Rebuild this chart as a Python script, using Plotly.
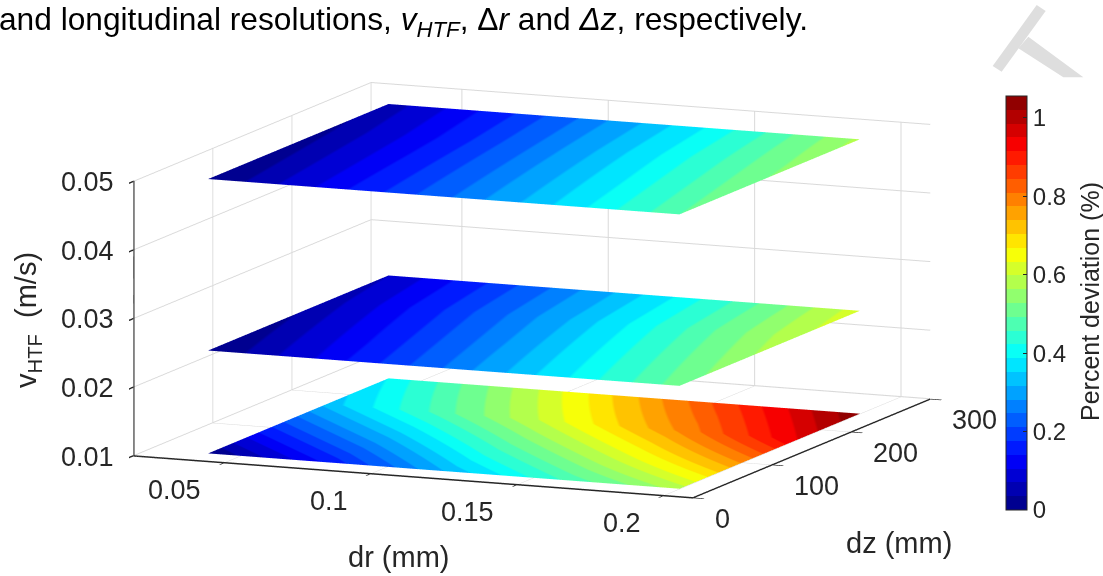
import plotly.graph_objects as go

W, H = 1103, 576

dr_mm = [0.039, 0.08, 0.12, 0.16, 0.20]
dz_mm = [20, 170, 248]
v_levels = [0.01, 0.025, 0.05]

dev_v001 = [
    [0.00, 0.15, 0.32, 0.46, 0.58],
    [0.33, 0.48, 0.63, 0.78, 0.95],
    [0.39, 0.555, 0.72, 0.885, 1.05],
]
dev_v0025 = [
    [0.00, 0.12, 0.25, 0.38, 0.51],
    [0.05, 0.18, 0.31, 0.45, 0.59],
    [0.07, 0.20, 0.33, 0.47, 0.62],
]
dev_v005 = [
    [0.00, 0.12, 0.24, 0.36, 0.49],
    [0.03, 0.15, 0.28, 0.41, 0.54],
    [0.05, 0.17, 0.30, 0.43, 0.57],
]
all_dev = [dev_v001, dev_v0025, dev_v005]

dr_ticks = [0.05, 0.1, 0.15, 0.2]
dr_labels = ["0.05", "0.1", "0.15", "0.2"]
dz_ticks = [0, 100, 200, 300]
dz_labels = ["0", "100", "200", "300"]
v_ticks = [0.01, 0.02, 0.03, 0.04, 0.05]
v_labels = ["0.01", "0.02", "0.03", "0.04", "0.05"]
cbar_ticks = [0, 0.2, 0.4, 0.6, 0.8, 1]
cbar_labels = ["0", "0.2", "0.4", "0.6", "0.8", "1"]

N_BANDS = 30
CMAX = 1.056
INK = "#262626"
GRID = "#d9d9d9"
FONT = "Liberation Sans"
DR_RANGE = [0.019, 0.21]
DZ_RANGE = [0, 300]
V_RANGE = [0.00995, 0.05005]


def jet_rgb(t):
    def ramp(v):
        return max(0.0, min(1.0, v))
    r = ramp(1.5 - abs(4 * t - 3))
    g = ramp(1.5 - abs(4 * t - 2))
    b = ramp(1.5 - abs(4 * t - 1))
    return f"rgb({round(r*255)},{round(g*255)},{round(b*255)})"


scale = []
for i in range(N_BANDS):
    c = jet_rgb((i + 0.5) / N_BANDS)
    scale.append([i / N_BANDS, c])
    scale.append([(i + 1) / N_BANDS, c])

fig = go.Figure()
for k, (lev, dev) in enumerate(zip(v_levels, all_dev)):
    fig.add_trace(go.Surface(
        x=dr_mm, y=dz_mm, z=[[lev] * len(dr_mm) for _ in dz_mm],
        surfacecolor=dev, cmin=0, cmax=CMAX, colorscale=scale,
        showscale=k == 0, hoverinfo="skip",
        lighting=dict(ambient=1, diffuse=0, specular=0, roughness=1, fresnel=0),
        colorbar=dict(
            x=1006 / W, xanchor="left", thickness=21, thicknessmode="pixels",
            y=(H - 510) / H, yanchor="bottom", len=414 / H, lenmode="fraction",
            tickvals=cbar_ticks, ticktext=cbar_labels, ticks="inside", ticklen=4,
            tickcolor=INK, outlinecolor=INK, outlinewidth=1,
            tickfont=dict(family=FONT, size=24, color=INK), ypad=0, xpad=0,
        ),
    ))


def ax(rng, tv):
    return dict(
        title=dict(text=""), range=rng, tickvals=tv, autorange=False,
        showgrid=True, gridcolor=GRID, gridwidth=2,
        showline=True, linecolor=INK, linewidth=3, zeroline=False,
        ticks="outside", ticklen=12, tickcolor=INK, tickwidth=3,
        showticklabels=False,
        showbackground=False, showspikes=False,
    )


def tick_note(x, y, z, text, anchor, dx, dy):
    return dict(
        x=x, y=y, z=z, text=text, showarrow=False, xanchor=anchor, yanchor="middle",
        xshift=dx, yshift=dy, font=dict(family=FONT, size=27, color=INK),
    )


tick_notes = (
    [tick_note(v, DZ_RANGE[0], 0.01, t, "right", -21, -28) for v, t in zip(dr_ticks, dr_labels)]
    + [tick_note(DR_RANGE[1], v, 0.01, t, "left", 20, -21) for v, t in zip(dz_ticks, dz_labels)]
    + [tick_note(DR_RANGE[0], DZ_RANGE[0], v, t, "right", -18, -1) for v, t in zip(v_ticks, v_labels)]
)

SCALE = 2.124
fig.update_layout(
    width=W, height=H, margin=dict(l=0, r=0, t=0, b=0),
    paper_bgcolor="white", showlegend=False,
    scene=dict(
        domain=dict(x=[0, 1064 / W], y=[0, 1 - 4 / H]),
        xaxis=ax(DR_RANGE, dr_ticks),
        yaxis=ax(DZ_RANGE, dz_ticks),
        zaxis=ax(V_RANGE, v_ticks),
        annotations=tick_notes,
        aspectmode="manual", aspectratio=dict(x=SCALE, y=SCALE, z=0.46 * SCALE),
        camera=dict(
            projection=dict(type="orthographic"),
            eye=dict(x=0.3846 * 2, y=-0.906 * 2, z=0.1766 * 2),
            up=dict(x=0, y=0, z=1), center=dict(x=0, y=0, z=0),
        ),
    ),
)


def note(x, y, text, size=23, angle=0, anchor="center", color=INK):
    fig.add_annotation(
        x=x / W, y=1 - y / H, xref="paper", yref="paper", text=text, showarrow=False,
        textangle=angle, xanchor=anchor, yanchor="middle",
        font=dict(family=FONT, size=size, color=color),
    )


note(-3, 21, "and longitudinal resolutions, <i>v<sub>HTF</sub></i>, Δ<i>r</i> and <i>Δz</i>, respectively.", size=31.7, anchor="left", color="black")
note(398, 557, "dr (mm)", size=29)
note(899, 543, "dz (mm)", size=29)
note(28, 320, "v<sub>HTF</sub>&nbsp;&nbsp;(m/s)", size=29, angle=-90)
note(1090, 302, "Percent deviation (%)", size=25, angle=-90)


def poly(points):
    p = " L ".join(f"{(900 + a / 3) / W:.5f},{1 - (b / 3) / H:.5f}" for a, b in points)
    fig.add_shape(type="path", xref="paper", yref="paper", path=f"M {p} Z",
                  fillcolor="#dedede", line_width=0)


poly([(410, 15), (437, 33), (305, 215), (278, 198)])
poly([(385, 110), (550, 232), (490, 232), (355, 145)])

fig.write_html("out.html", config={"displayModeBar": False},
               post_script="document.body.style.margin='0';document.body.style.overflow='hidden';")
